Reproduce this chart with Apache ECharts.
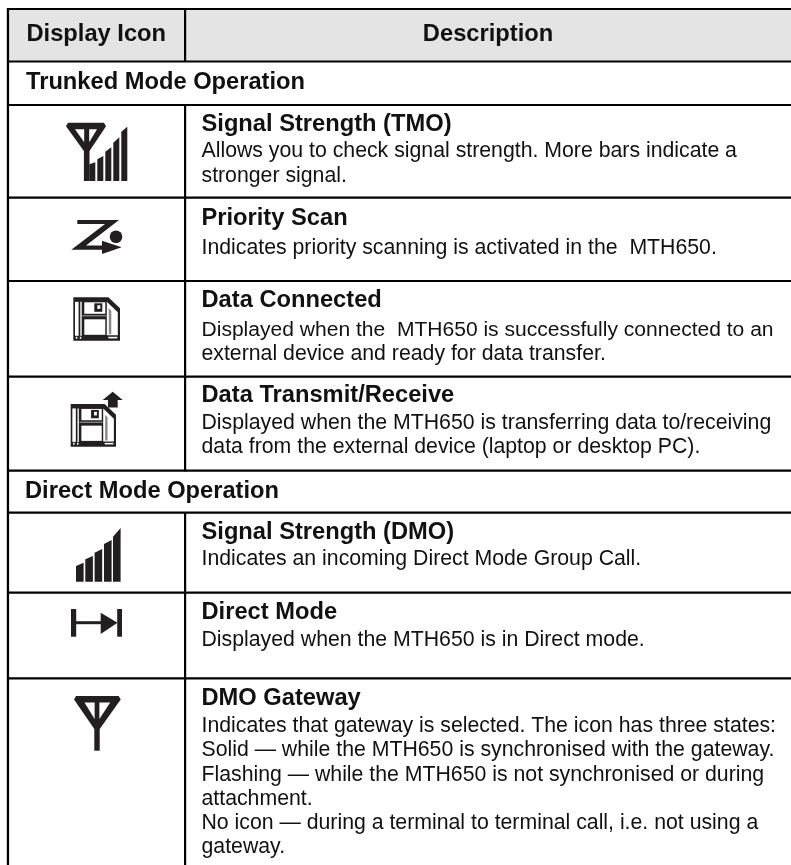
<!DOCTYPE html>
<html style="height: 100%">
  <head>
    <meta charset="utf-8">
  </head>
  <body style="height: 100%; margin: 0; background: #fff">
    <div id="container" style="width: 791px; height: 865px"></div>
    <script src="https://cdn.jsdelivr.net/npm/echarts@6/dist/echarts.min.js"></script>
    <script type="text/javascript">
      // table text
      const headers = ['Display Icon', 'Description'];
      const sections = ['Trunked Mode Operation', 'Direct Mode Operation'];
      const rowTitles = [
        'Signal Strength (TMO)',
        'Priority Scan',
        'Data Connected',
        'Data Transmit/Receive',
        'Signal Strength (DMO)',
        'Direct Mode',
        'DMO Gateway'
      ];
      const rowLines = [
        ['Allows you to check signal strength. More bars indicate a', 'stronger signal.'],
        ['Indicates priority scanning is activated in the  MTH650.'],
        ['Displayed when the  MTH650 is successfully connected to an', 'external device and ready for data transfer.'],
        ['Displayed when the MTH650 is transferring data to/receiving', 'data from the external device (laptop or desktop PC).'],
        ['Indicates an incoming Direct Mode Group Call.'],
        ['Displayed when the MTH650 is in Direct mode.'],
        [
          'Indicates that gateway is selected. The icon has three states:',
          'Solid \u2014 while the MTH650 is synchronised with the gateway.',
          'Flashing \u2014 while the MTH650 is not synchronised or during',
          'attachment.',
          'No icon \u2014 during a terminal to terminal call, i.e. not using a',
          'gateway.'
        ]
      ];

      // layout, in page pixels
      const ruleY = [9, 61.5, 105, 197.7, 281, 376.7, 470.7, 512.7, 592.7, 678.3];
      const titleBase = [132, 226.5, 308.5, 403.5, 540.5, 620.5, 706.5];
      const bodyBase = [158.7, 255.5, 337.5, 430.5, 566.5, 647.5, 733.5];
      const sectionBase = [90, 499];
      const BOLD = 'bold 23.7px "Liberation Sans"';
      const BODY = '21.27px "Liberation Sans"';
      const BODY_TIGHT = '21.05px "Liberation Sans"';
      const INK = '#231f20';
      const TEXT = '#111';

      let els = [];

      function rect(x, y, w, h, fill) {
        els.push({ type: 'rect', silent: true, shape: { x: x, y: y, width: w, height: h }, style: { fill: fill || INK } });
      }
      function poly(points, fill) {
        els.push({ type: 'polygon', silent: true, shape: { points: points }, style: { fill: fill || INK } });
      }
      function text(str, x, base, font, size, align) {
        els.push({
          type: 'text', silent: true,
          style: { text: str, x: x, y: base - size * 0.335, font: font, fill: TEXT, textAlign: align || 'left', textVerticalAlign: 'middle' }
        });
      }

      // header band and rules
      rect(8, 9, 783, 52.5, '#e4e4e4');
      ruleY.forEach(function (y) {
        rect(7, y - 1.1, 784, 2.2, '#000');
      });
      rect(6.8, 8, 2.3, 857, '#000');
      rect(184, 8, 2.2, 54, '#000');
      rect(184, 104, 2.2, 367.5, '#000');
      rect(184, 512, 2.2, 353, '#000');

      // text
      text(headers[0], 26.5, 42.5, BOLD, 23.7);
      text(headers[1], 488, 42.5, BOLD, 23.7, 'center');
      sections.forEach(function (s, i) {
        text(s, i ? 25 : 26, sectionBase[i], BOLD, 23.7);
      });
      rowTitles.forEach(function (t, i) {
        text(t, 201.5, titleBase[i], BOLD, 23.7);
        rowLines[i].forEach(function (line, j) {
          // this one line sits a little tighter in the source
          let font = i === 2 && j === 0 ? BODY_TIGHT : BODY;
          text(line, 201.5, bodyBase[i] + j * 24.2, font, 21.27);
        });
      });

      // icons
      function antenna(left, right, top, apex, bottom, mast, cx) {
        let k = (right - left) / 46.7;
        let half = mast / 2 - 0.3;
        poly([[left + 2, top], [right - 2, top], [right, top + 3.5], [cx + mast / 2, apex + 2], [cx - mast / 2, apex + 2], [left, top + 3.5]]);
        rect(cx - mast / 2, apex - 1, mast, bottom - apex + 1);
        poly([[left + 10.5 * k, top + 6.5], [cx - half, top + 6.5], [cx - half, apex - 8 * k]], '#fff');
        poly([[right - 10.5 * k, top + 6.5], [cx + half, top + 6.5], [cx + half, apex - 8 * k]], '#fff');
      }
      function bars(xs, w, tops, bottom) {
        xs.forEach(function (x, i) {
          poly([[x, tops[i][0]], [x + w, tops[i][1]], [x + w, bottom], [x, bottom]]);
        });
      }
      function floppy(x, y, w, h) {
        let sx = w / 46.7, sy = h / 43.4;
        let r = function (a, b, c, d, f) { rect(x + a * sx, y + b * sy, c * sx, d * sy, f || '#fff'); };
        poly([[x, y], [x + 35 * sx, y], [x + w, y + 11 * sy], [x + w, y + h], [x, y + h]]);
        r(1.7, 4.5, 3.6, 34);
        r(7, 4.5, 1.4, 34);
        r(11, 5, 21, 11.5);
        r(21, 6, 8, 8.5, INK);
        r(24, 8, 3, 3.6);
        r(9, 18, 24, 1, '#aaa');
        r(11, 22, 21, 15.5);
        poly([[x + 33.5 * sx, y + 4.5 * sy], [x + 44.5 * sx, y + 15 * sy], [x + 44.5 * sx, y + 38 * sy], [x + 33.5 * sx, y + 38 * sy]], '#fff');
        poly([[x + 35.5 * sx, y + 11 * sy], [x + 38 * sx, y + 13.5 * sy], [x + 38 * sx, y + 37 * sy], [x + 35.5 * sx, y + 37 * sy]], '#8a8a8a');
        r(2.5, 39.5, 1.5, 2);
        r(6.5, 39.5, 1.5, 2);
        r(35, 39.5, 9, 1.6);
      }

      antenna(66, 106, 122.7, 149, 181, 5.6, 86.7);
      bars([89.3, 97.3, 105.3, 113.3, 121.3], 6,
        [[164.3, 162.3], [159.3, 156], [151.7, 147.3], [142.7, 137.3], [131.7, 126.7]], 181);

      poly([[77.3, 220], [119, 220], [86, 245.5], [102, 245.5], [102, 240.7], [121.7, 247.3], [102, 254], [102, 249.7], [71.3, 249.7], [105, 224], [77.3, 224]]);
      els.push({ type: 'circle', silent: true, shape: { cx: 116, cy: 236.7, r: 6.3 }, style: { fill: INK } });

      floppy(73.3, 297.3, 46.7, 43.4);

      floppy(70.7, 404, 45.3, 42.7);
      poly([[112.7, 391.7], [122.7, 400], [117.7, 400], [117.7, 407.5], [108, 407.5], [108, 400], [102.7, 400]]);

      bars([76, 85.3, 94.6, 104, 113], 7.6,
        [[566, 562.7], [559.3, 556], [552.7, 549], [544, 540], [536.7, 528]], 581.7);

      rect(71, 609, 5.2, 27.7);
      rect(117.2, 609, 4.8, 27.7);
      rect(76, 621.2, 26, 3);
      poly([[100.7, 612.7], [117.5, 622.7], [100.7, 634]]);

      antenna(74, 120.7, 696, 727, 750.7, 5.4, 97);

      let myChart = echarts.init(document.getElementById('container'), null, { renderer: 'canvas' });
      let option = {
        animation: false,
        backgroundColor: '#fff',
        graphic: { elements: els }
      };
      myChart.setOption(option);
    </script>
  </body>
</html>
